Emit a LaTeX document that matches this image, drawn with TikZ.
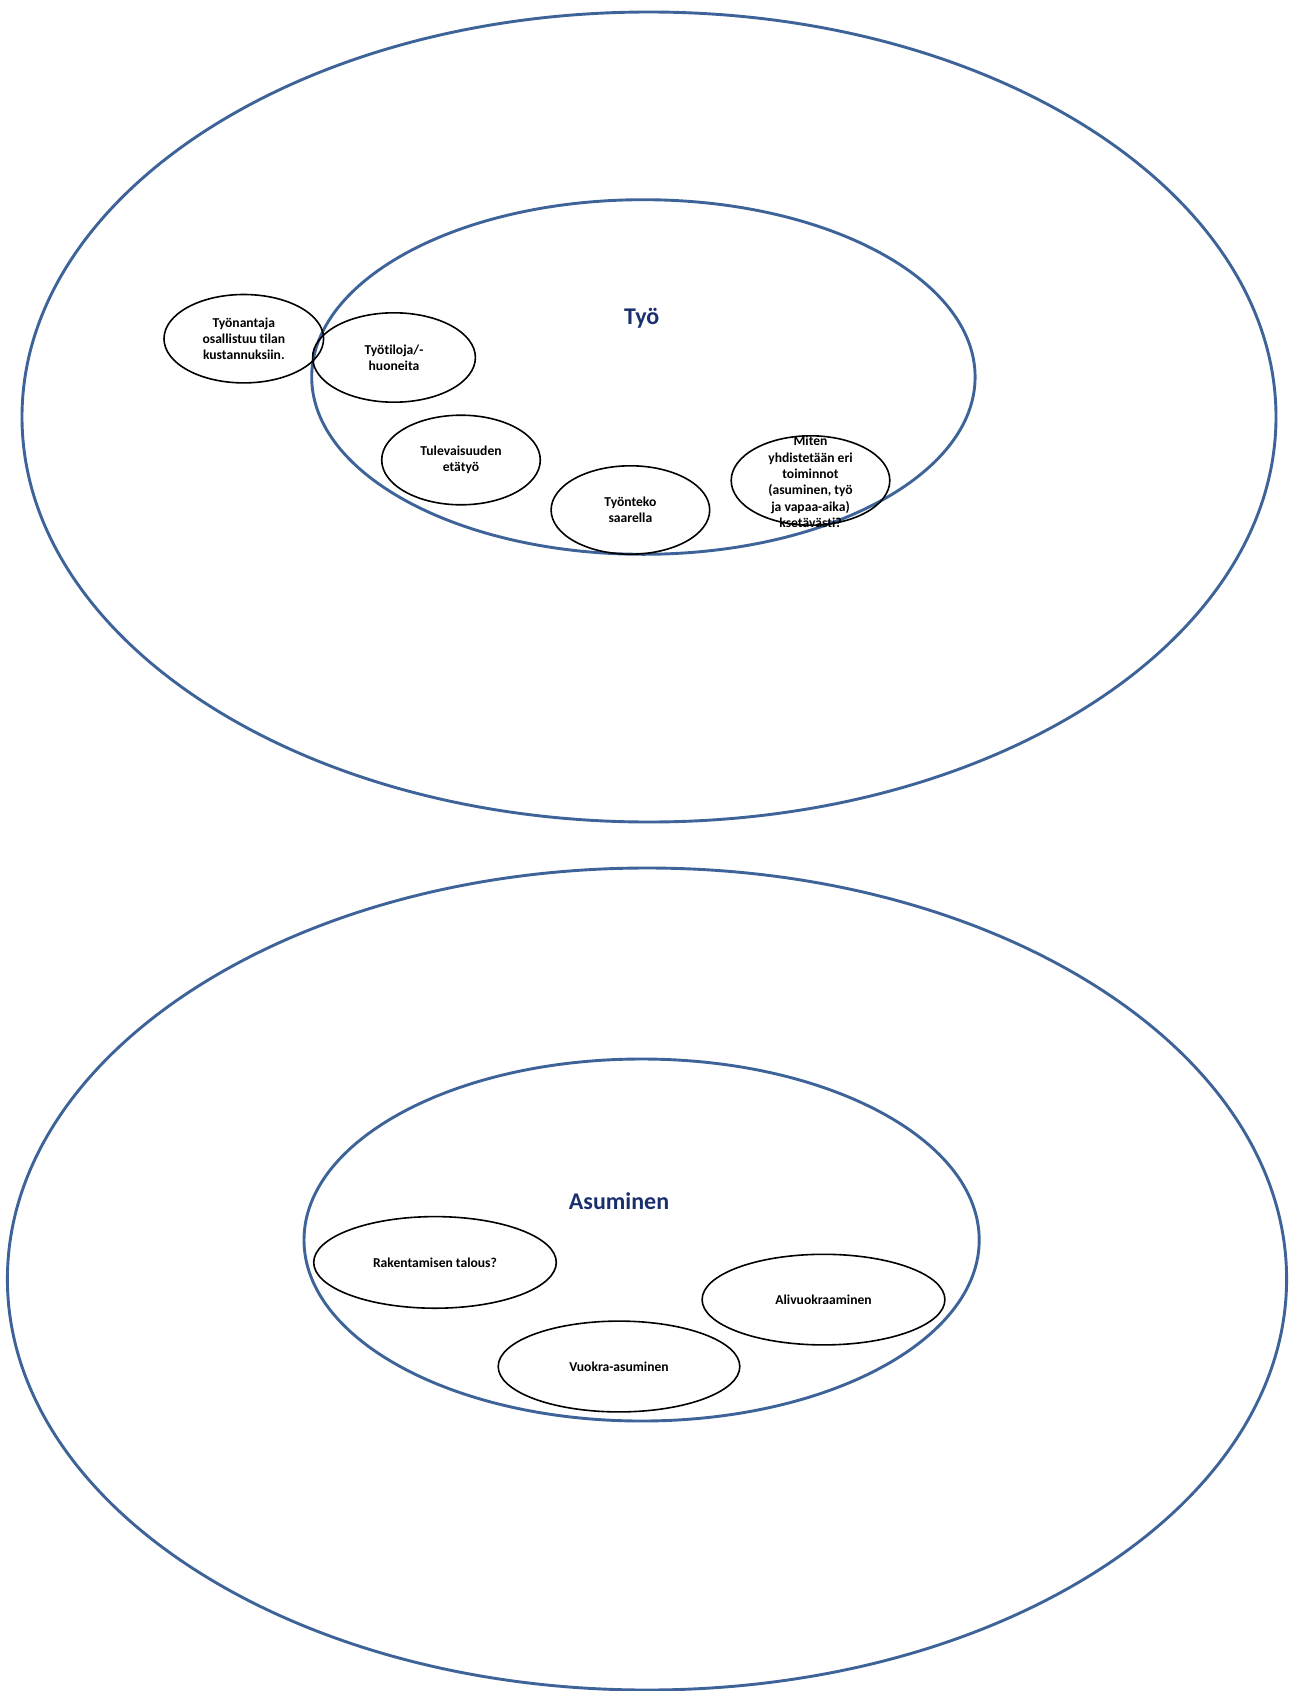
\documentclass[tikz,border=0pt]{standalone}
\usepackage{fontspec}
\setmainfont{Carlito}[Ligatures=NoCommon]
\definecolor{ringblue}{HTML}{3D6399}
\definecolor{navy}{HTML}{1A2F6E}
\begin{document}
\begin{tikzpicture}[x=1pt,y=-1pt,
  ring/.style={draw=ringblue,line width=2.9pt},
  bubble/.style={draw=black,line width=1.6pt},
  btext/.style={align=center,font=\fontsize{13.6}{16.4}\selectfont\bfseries,text=black,inner sep=0pt},
  title/.style={font=\fontsize{24}{28}\selectfont\bfseries,text=navy,inner sep=0pt}]
\useasboundingbox[fill=white] (0,0) rectangle (1292,1691);
% Top group
\draw[ring] (649,417) ellipse [x radius=627, y radius=405];
\draw[ring] (643.4,377) ellipse [x radius=331.7, y radius=177.3];
\node[title] (tyo) at (641.7,318) {Työ};
\draw[bubble] (243.8,338.7) ellipse [x radius=79.8, y radius=44.2];
\node[btext] (b1) at (243.8,338.7) {Työnantaja\\osallistuu tilan\\kustannuksiin.};
\draw[bubble] (394,357.5) ellipse [x radius=81.4, y radius=44.7];
\node[btext] (b2) at (394,357.5) {Työtiloja/-\\huoneita};
\draw[bubble] (461,460) ellipse [x radius=79.3, y radius=44.8];
\node[btext] (b3) at (461,460) {Tulevaisuuden\\etätyö};
\draw[bubble] (630.4,510) ellipse [x radius=79.3, y radius=44.2];
\node[btext] (b4) at (630.4,510) {Työnteko\\saarella};
\draw[bubble] (810.5,480.5) ellipse [x radius=79.3, y radius=44.7];
\node[btext] (b5) at (810.5,482) {Miten\\yhdistetään eri\\toiminnot\\(asuminen, työ\\ja vapaa-aika)\\ksetävästi?};
% Bottom group
\draw[ring] (647,1279) ellipse [x radius=639.6, y radius=411];
\draw[ring] (641.6,1240) ellipse [x radius=337.6, y radius=181];
\node[title] (asu) at (619,1201) {Asuminen};
\draw[bubble] (435,1262.4) ellipse [x radius=121.3, y radius=45.8];
\node[btext] (c1) at (435,1263) {Rakentamisen talous?};
\draw[bubble] (823.5,1299.6) ellipse [x radius=121.4, y radius=45.3];
\node[btext] (c2) at (823.5,1300) {Alivuokraaminen};
\draw[bubble] (619,1366.5) ellipse [x radius=120.8, y radius=45.4];
\node[btext] (c3) at (619,1367) {Vuokra-asuminen};
\end{tikzpicture}
\end{document}
